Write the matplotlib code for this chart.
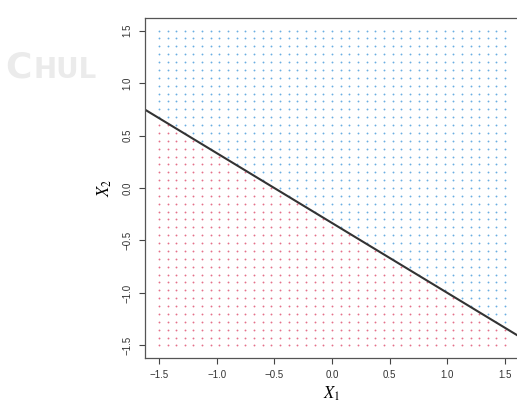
import numpy as np
import matplotlib
matplotlib.use('Agg')
import matplotlib.pyplot as plt

# grid of points where the classifier is evaluated
grid_x1 = [-1.5, -1.425, -1.35, -1.275, -1.2, -1.125, -1.05, -0.975, -0.9, -0.825,
           -0.75, -0.675, -0.6, -0.525, -0.45, -0.375, -0.3, -0.225, -0.15, -0.075,
           0.0, 0.075, 0.15, 0.225, 0.3, 0.375, 0.45, 0.525, 0.6, 0.675,
           0.75, 0.825, 0.9, 0.975, 1.05, 1.125, 1.2, 1.275, 1.35, 1.425, 1.5]
grid_x2 = list(grid_x1)

# hyperplane 1 + 2*X1 + 3*X2 = 0
beta0, beta1, beta2 = 1.0, 2.0, 3.0

x_ticks = [-1.5, -1.0, -0.5, 0.0, 0.5, 1.0, 1.5]
y_ticks = [-1.5, -1.0, -0.5, 0.0, 0.5, 1.0, 1.5]

blue = '#6aaee2'
red = '#e5708a'

plt.rcParams['mathtext.fontset'] = 'stix'
plt.rcParams['font.family'] = ['Liberation Sans', 'DejaVu Sans']

fig = plt.figure(figsize=(5.17, 4.03), dpi=100)
ax = fig.add_axes([145 / 517, 45 / 403, 374 / 517, 340 / 403])

# watermark
fig.text(5 / 517, 1 - 78 / 403, 'C', fontsize=26, color='#ebebeb',
         family='DejaVu Sans', weight='bold', va='baseline')
fig.text(33 / 517, 1 - 78 / 403, 'HUL', fontsize=20, color='#ebebeb',
         family='DejaVu Sans', weight='bold', va='baseline')

X1, X2 = np.meshgrid(grid_x1, grid_x2)
f = beta0 + beta1 * X1 + beta2 * X2
ax.scatter(X1[f > 0], X2[f > 0], s=1.8, color=blue, linewidths=0)
ax.scatter(X1[f <= 0], X2[f <= 0], s=1.8, color=red, linewidths=0)

ax.axline((0, -beta0 / beta2), slope=-beta1 / beta2, color='#333333', lw=1.5)

ax.set_xlim(-1.62, 1.62)
ax.set_ylim(-1.62, 1.62)
ax.set_xticks(x_ticks)
ax.set_yticks(y_ticks)
ax.set_xticklabels([f'{v:.1f}'.replace('-', '\u2212') for v in x_ticks], fontsize=7, color='#333333')
ax.set_yticklabels([f'{v:.1f}'.replace('-', '\u2212') for v in y_ticks], fontsize=7, color='#333333',
                   rotation=90, va='center')
ax.tick_params(length=4, width=0.8, color='#444444', pad=5)

for s in ax.spines.values():
    s.set_color('#555555')
    s.set_linewidth(0.9)

ax.set_xlabel('$X_1$', fontsize=12, labelpad=3)
ax.set_ylabel('$X_2$', fontsize=12, labelpad=6)

fig.savefig('out.png', dpi=100)
